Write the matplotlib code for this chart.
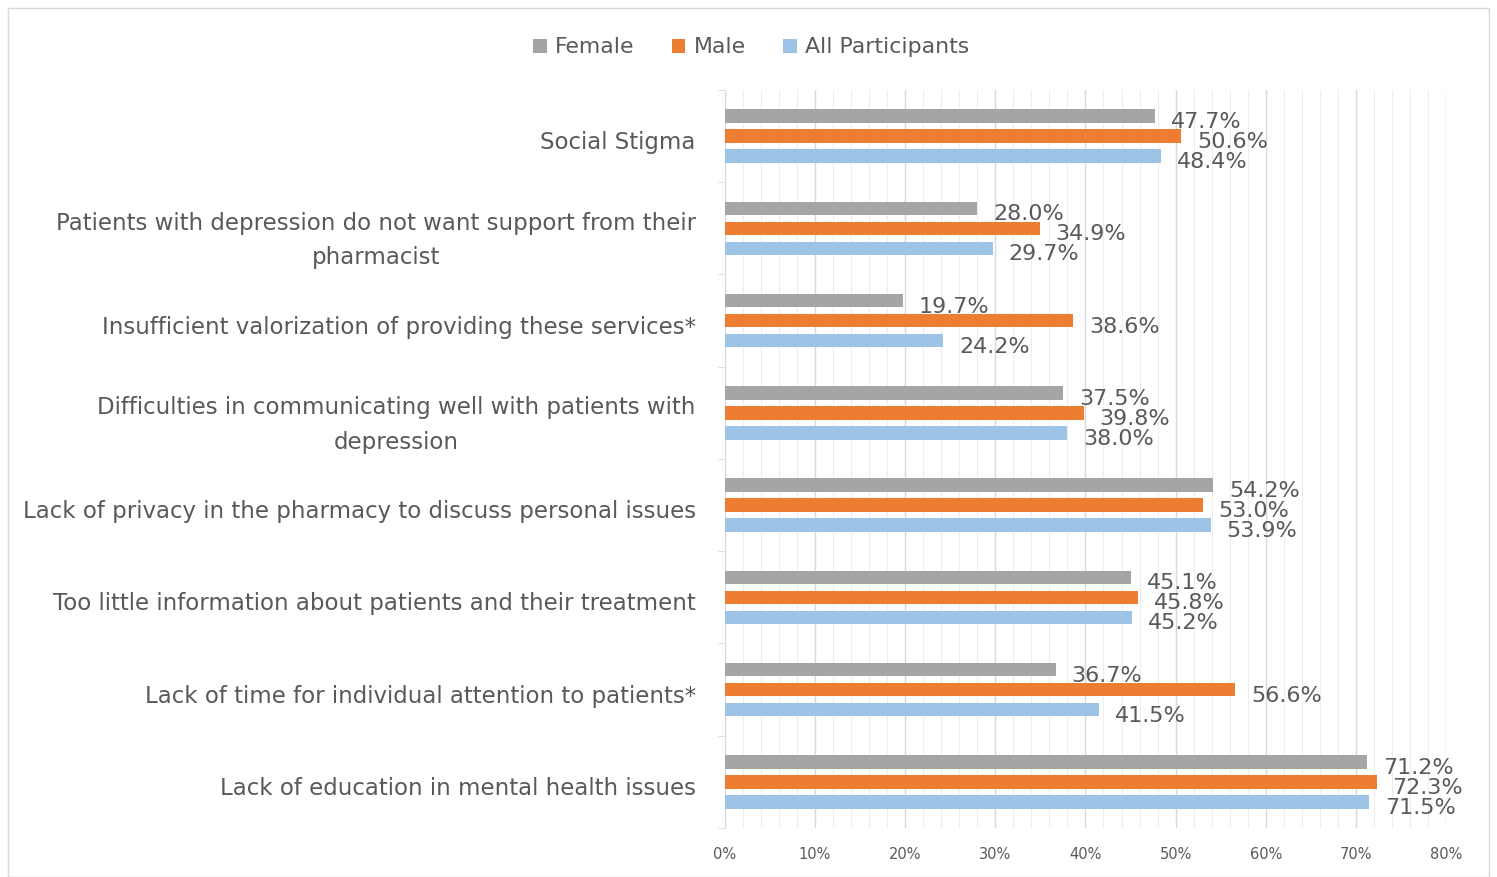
import numpy as np
import matplotlib.pyplot as plt
import matplotlib.transforms as mtransforms
from matplotlib.patches import Rectangle
from matplotlib.ticker import MultipleLocator, PercentFormatter

plt.rcParams['font.family'] = ['DejaVu Sans']

# categories, top to bottom
categorias = [
    "Social Stigma",
    "Patients with depression do not want support from their\npharmacist",
    "Insufficient valorization of providing these services*",
    "Difficulties in communicating well with patients with\ndepression",
    "Lack of privacy in the pharmacy to discuss personal issues",
    "Too little information about patients and their treatment",
    "Lack of time for individual attention to patients*",
    "Lack of education in mental health issues",
]
female = [47.7, 28.0, 19.7, 37.5, 54.2, 45.1, 36.7, 71.2]
male = [50.6, 34.9, 38.6, 39.8, 53.0, 45.8, 56.6, 72.3]
todos = [48.4, 29.7, 24.2, 38.0, 53.9, 45.2, 41.5, 71.5]

series = [("Female", female, "#A5A5A5"),
          ("Male", male, "#ED7D31"),
          ("All Participants", todos, "#9DC3E6")]

texto = "#595959"

fig = plt.figure(figsize=(14.97, 8.77), dpi=100)
ax = fig.add_axes([0.4843, 0.0559, 0.4816, 0.8415])

# outer chart border
fig.patches.append(Rectangle((8 / 1497, 0), 1481 / 1497, 869 / 877,
                             transform=fig.transFigure, fill=False,
                             edgecolor="#D9D9D9", linewidth=1))

y = np.arange(len(categorias))
alto = 0.147
paso = 0.217

for k, (nombre, vals, color) in enumerate(series):
    pos = y + (k - 1) * paso
    ax.barh(pos, vals, height=alto, color=color, label=nombre, zorder=3)
    for p, v in zip(pos, vals):
        ax.annotate(f"{v:.1f}%", (v, p), xytext=(16, -6),
                    textcoords="offset pixels", va="center", ha="left",
                    fontsize=16, color=texto, zorder=4)

ax.set_xlim(0, 80)
ax.set_ylim(len(categorias) - 0.5, -0.5)
ax.xaxis.set_major_locator(MultipleLocator(10))
ax.xaxis.set_minor_locator(MultipleLocator(2))
ax.xaxis.set_major_formatter(PercentFormatter(decimals=0))
ax.grid(axis="x", which="major", color="#D9D9D9", linewidth=1, zorder=0)
ax.grid(axis="x", which="minor", color="#EDEDED", linewidth=0.8, zorder=0)
ax.tick_params(axis="x", which="both", length=0, labelsize=10.5,
               labelcolor=texto, pad=14)

# category labels, boundary ticks on the y axis
ax.set_yticks(y)
ax.set_yticklabels(categorias, multialignment="center", linespacing=1.62)
ax.set_yticks(np.arange(len(categorias) + 1) - 0.5, minor=True)
ax.tick_params(axis="y", which="major", length=0, labelsize=16.5,
               labelcolor=texto, pad=21)
ax.tick_params(axis="y", which="minor", length=5, color="#D9D9D9")

# nudge category labels a little lower
bajar = mtransforms.ScaledTranslation(0, -4 / 100, fig.dpi_scale_trans)
for etiqueta in ax.get_yticklabels():
    etiqueta.set_transform(etiqueta.get_transform() + bajar)

for lado in ["top", "right", "bottom"]:
    ax.spines[lado].set_visible(False)
ax.spines["left"].set_color("#D9D9D9")

fig.legend(loc="upper center", bbox_to_anchor=(0.502, 0.98), ncol=3,
           frameon=False, fontsize=15.8, labelcolor=texto, handlelength=0.6,
           handleheight=0.6, handletextpad=0.4, columnspacing=1.7)

plt.savefig("out.png", dpi=100)
